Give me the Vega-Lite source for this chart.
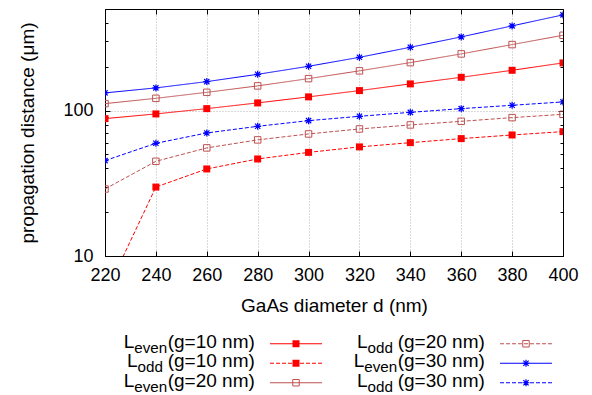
{
  "$schema": "https://vega.github.io/schema/vega-lite/v6.json",
  "padding": {"left": 18, "top": 8, "right": 5, "bottom": 0},
  "autosize": {"type": "pad"},
  "bounds": "flush",
  "spacing": 78,
  "config": {
    "font": "Liberation Sans",
    "view": {"stroke": null},
    "axis": {"domainColor": "#000000", "tickColor": "#000000", "labelColor": "#000000", "titleColor": "#000000", "titleFontWeight": "normal", "domainWidth": 1, "tickWidth": 1, "labelFlush": false}
  },
  "datasets": {
    "curves": [
      {"s": "Leven10", "d": 220, "v": 88.1}, {"s": "Leven10", "d": 240, "v": 94.9}, {"s": "Leven10", "d": 260, "v": 103.2}, {"s": "Leven10", "d": 280, "v": 113.0}, {"s": "Leven10", "d": 300, "v": 124.3},
      {"s": "Leven10", "d": 320, "v": 137.3}, {"s": "Leven10", "d": 340, "v": 152.7}, {"s": "Leven10", "d": 360, "v": 169.5}, {"s": "Leven10", "d": 380, "v": 189.4}, {"s": "Leven10", "d": 400, "v": 212.9},
      {"s": "Lodd10", "d": 220, "v": 5.4}, {"s": "Lodd10", "d": 240, "v": 29.8}, {"s": "Lodd10", "d": 260, "v": 39.7}, {"s": "Lodd10", "d": 280, "v": 46.5}, {"s": "Lodd10", "d": 300, "v": 51.6},
      {"s": "Lodd10", "d": 320, "v": 56.3}, {"s": "Lodd10", "d": 340, "v": 60.2}, {"s": "Lodd10", "d": 360, "v": 64.2}, {"s": "Lodd10", "d": 380, "v": 68.0}, {"s": "Lodd10", "d": 400, "v": 71.7},
      {"s": "Leven20", "d": 220, "v": 111.7}, {"s": "Leven20", "d": 240, "v": 121.5}, {"s": "Leven20", "d": 260, "v": 133.6}, {"s": "Leven20", "d": 280, "v": 147.9}, {"s": "Leven20", "d": 300, "v": 166.0},
      {"s": "Leven20", "d": 320, "v": 187.7}, {"s": "Leven20", "d": 340, "v": 213.9}, {"s": "Leven20", "d": 360, "v": 245.6}, {"s": "Leven20", "d": 380, "v": 284.6}, {"s": "Leven20", "d": 400, "v": 329.8},
      {"s": "Lodd20", "d": 220, "v": 28.9}, {"s": "Lodd20", "d": 240, "v": 44.8}, {"s": "Lodd20", "d": 260, "v": 55.4}, {"s": "Lodd20", "d": 280, "v": 62.9}, {"s": "Lodd20", "d": 300, "v": 69.1},
      {"s": "Lodd20", "d": 320, "v": 74.8}, {"s": "Lodd20", "d": 340, "v": 79.7}, {"s": "Lodd20", "d": 360, "v": 84.4}, {"s": "Lodd20", "d": 380, "v": 89.5}, {"s": "Lodd20", "d": 400, "v": 94.3},
      {"s": "Leven30", "d": 220, "v": 132.4}, {"s": "Leven30", "d": 240, "v": 143.3}, {"s": "Leven30", "d": 260, "v": 158.3}, {"s": "Leven30", "d": 280, "v": 177.7}, {"s": "Leven30", "d": 300, "v": 201.8},
      {"s": "Leven30", "d": 320, "v": 232.6}, {"s": "Leven30", "d": 340, "v": 272.7}, {"s": "Leven30", "d": 360, "v": 321.5}, {"s": "Leven30", "d": 380, "v": 382.7}, {"s": "Leven30", "d": 400, "v": 455.5},
      {"s": "Lodd30", "d": 220, "v": 45.3}, {"s": "Lodd30", "d": 240, "v": 59.6}, {"s": "Lodd30", "d": 260, "v": 70.2}, {"s": "Lodd30", "d": 280, "v": 78.0}, {"s": "Lodd30", "d": 300, "v": 85.3},
      {"s": "Lodd30", "d": 320, "v": 91.4}, {"s": "Lodd30", "d": 340, "v": 97.3}, {"s": "Lodd30", "d": 360, "v": 103.2}, {"s": "Lodd30", "d": 380, "v": 108.8}, {"s": "Lodd30", "d": 400, "v": 114.8}
    ],
    "legend": [
      {"col": 1, "row": 1, "sub": "even", "lab": "(g=10 nm)", "s": "Leven10"},
      {"col": 1, "row": 2, "sub": "odd", "lab": "(g=10 nm)", "s": "Lodd10"},
      {"col": 1, "row": 3, "sub": "even", "lab": "(g=20 nm)", "s": "Leven20"},
      {"col": 2, "row": 1, "sub": "odd", "lab": "(g=20 nm)", "s": "Lodd20"},
      {"col": 2, "row": 2, "sub": "even", "lab": "(g=30 nm)", "s": "Leven30"},
      {"col": 2, "row": 3, "sub": "odd", "lab": "(g=30 nm)", "s": "Lodd30"}
    ]
  },
  "vconcat": [
    {
      "width": 458,
      "height": 247,
      "data": {"name": "curves"},
      "layer": [
        {
          "mark": {"type": "line", "clip": true, "strokeWidth": 1},
          "encoding": {
            "x": {"field": "d", "type": "quantitative", "scale": {"domain": [220, 400], "nice": false, "zero": false},
              "axis": {"orient": "bottom", "values": [220, 240, 260, 280, 300, 320, 340, 360, 380, 400], "format": "d", "tickSize": -5, "grid": true, "gridDash": [1, 2], "gridColor": "#b4b4b4", "labelFontSize": 18, "labelPadding": 15, "title": "GaAs diameter d (nm)", "titleFontSize": 19, "titlePadding": 12}},
            "y": {"field": "v", "type": "quantitative", "scale": {"type": "log", "domain": [10, 500], "nice": false},
              "axis": {"orient": "left", "values": [10, 100], "format": "d", "tickSize": -5, "grid": true, "gridDash": [1, 2], "gridColor": "#b4b4b4", "labelFontSize": 18, "labelPadding": 17, "title": "propagation distance (μm)", "titleFontSize": 19, "titlePadding": 25}},
            "color": {"field": "s", "type": "nominal", "scale": {"domain": ["Leven10", "Lodd10", "Leven20", "Lodd20", "Leven30", "Lodd30"], "range": ["#ff0000", "#ff0000", "#c05050", "#c05050", "#0000ff", "#0000ff"]}, "legend": null},
            "strokeDash": {"field": "s", "type": "nominal", "scale": {"domain": ["Leven10", "Lodd10", "Leven20", "Lodd20", "Leven30", "Lodd30"], "range": [[1, 0], [4, 2], [1, 0], [4, 2], [1, 0], [4, 2]]}, "legend": null}
          }
        },
        {
          "transform": [{"filter": "datum.s == 'Leven10' || datum.s == 'Lodd10'"}],
          "mark": {"type": "point", "shape": "square", "filled": true, "size": 49, "opacity": 1, "clip": true},
          "encoding": {
            "x": {"field": "d", "type": "quantitative", "axis": {"orient": "top", "values": [220, 240, 260, 280, 300, 320, 340, 360, 380, 400], "labels": false, "tickSize": -5, "grid": false, "title": null}},
            "y": {"field": "v", "type": "quantitative", "axis": {"orient": "right", "values": [10, 100], "labels": false, "tickSize": -5, "grid": false, "title": null}},
            "color": {"field": "s", "type": "nominal", "legend": null}
          }
        },
        {
          "transform": [{"filter": "datum.s == 'Leven20' || datum.s == 'Lodd20'"}],
          "mark": {"type": "point", "shape": "square", "filled": false, "size": 42, "strokeWidth": 1, "opacity": 1, "clip": true},
          "encoding": {
            "x": {"field": "d", "type": "quantitative", "axis": null},
            "y": {"field": "v", "type": "quantitative", "axis": {"orient": "left", "values": [20, 30, 40, 50, 60, 70, 80, 90, 200, 300, 400], "labels": false, "tickSize": -3, "domain": false, "grid": false, "title": null}},
            "color": {"field": "s", "type": "nominal", "legend": null}
          }
        },
        {
          "transform": [{"filter": "datum.s == 'Leven30' || datum.s == 'Lodd30'"}],
          "mark": {"type": "point", "shape": "M-1,0L1,0M0,-1L0,1M-0.75,-0.75L0.75,0.75M-0.75,0.75L0.75,-0.75", "filled": false, "size": 49, "strokeWidth": 1.2, "opacity": 1, "clip": true},
          "encoding": {
            "x": {"field": "d", "type": "quantitative", "axis": null},
            "y": {"field": "v", "type": "quantitative", "axis": {"orient": "right", "values": [20, 30, 40, 50, 60, 70, 80, 90, 200, 300, 400], "labels": false, "tickSize": -3, "domain": false, "grid": false, "title": null}},
            "color": {"field": "s", "type": "nominal", "legend": null}
          }
        }
      ],
      "resolve": {"axis": {"x": "independent", "y": "independent"}}
    },
    {
      "width": 460,
      "height": 58.5,
      "data": {"name": "legend"},
      "encoding": {
        "x": {"field": "col", "type": "ordinal", "scale": {"type": "point", "padding": 0.5}, "axis": null},
        "y": {"field": "row", "type": "ordinal", "scale": {"type": "point", "padding": 0.5}, "axis": null}
      },
      "layer": [
        {"transform": [{"filter": "datum.sub == 'even'"}], "mark": {"type": "text", "text": "L", "align": "left", "baseline": "alphabetic", "dx": -96.3, "dy": 4, "fontSize": 19, "color": "#000000"}},
        {"transform": [{"filter": "datum.sub == 'odd'"}], "mark": {"type": "text", "text": "L", "align": "left", "baseline": "alphabetic", "dx": -93, "dy": 4, "fontSize": 19, "color": "#000000"}},
        {"transform": [{"filter": "datum.sub == 'even'"}], "mark": {"type": "text", "align": "left", "baseline": "alphabetic", "dx": -85.7, "dy": 9, "fontSize": 15.2, "color": "#000000"}, "encoding": {"text": {"field": "sub"}}},
        {"transform": [{"filter": "datum.sub == 'odd'"}], "mark": {"type": "text", "align": "left", "baseline": "alphabetic", "dx": -82.4, "dy": 9, "fontSize": 15.2, "color": "#000000"}, "encoding": {"text": {"field": "sub"}}},
        {"mark": {"type": "text", "align": "left", "baseline": "alphabetic", "dx": -52.3, "dy": 4, "fontSize": 19, "color": "#000000"}, "encoding": {"text": {"field": "lab"}}},
        {"mark": {"type": "point", "shape": "M-1,0L1,0", "size": 2704, "filled": false, "strokeWidth": 1, "opacity": 1, "xOffset": 76},
          "encoding": {
            "color": {"field": "s", "type": "nominal", "scale": {"domain": ["Leven10", "Lodd10", "Leven20", "Lodd20", "Leven30", "Lodd30"], "range": ["#ff0000", "#ff0000", "#c05050", "#c05050", "#0000ff", "#0000ff"]}, "legend": null},
            "strokeDash": {"field": "s", "type": "nominal", "scale": {"domain": ["Leven10", "Lodd10", "Leven20", "Lodd20", "Leven30", "Lodd30"], "range": [[1, 0], [4, 2], [1, 0], [4, 2], [1, 0], [4, 2]]}, "legend": null}
          }},
        {"transform": [{"filter": "datum.s == 'Leven10' || datum.s == 'Lodd10'"}], "mark": {"type": "point", "shape": "square", "filled": true, "size": 49, "opacity": 1, "xOffset": 76}, "encoding": {"color": {"field": "s", "type": "nominal", "legend": null}}},
        {"transform": [{"filter": "datum.s == 'Leven20' || datum.s == 'Lodd20'"}], "mark": {"type": "point", "shape": "square", "filled": false, "size": 42, "strokeWidth": 1, "opacity": 1, "xOffset": 76}, "encoding": {"color": {"field": "s", "type": "nominal", "legend": null}}},
        {"transform": [{"filter": "datum.s == 'Leven30' || datum.s == 'Lodd30'"}], "mark": {"type": "point", "shape": "M-1,0L1,0M0,-1L0,1M-0.75,-0.75L0.75,0.75M-0.75,0.75L0.75,-0.75", "filled": false, "size": 49, "strokeWidth": 1.2, "opacity": 1, "xOffset": 76}, "encoding": {"color": {"field": "s", "type": "nominal", "legend": null}}}
      ]
    }
  ]
}
